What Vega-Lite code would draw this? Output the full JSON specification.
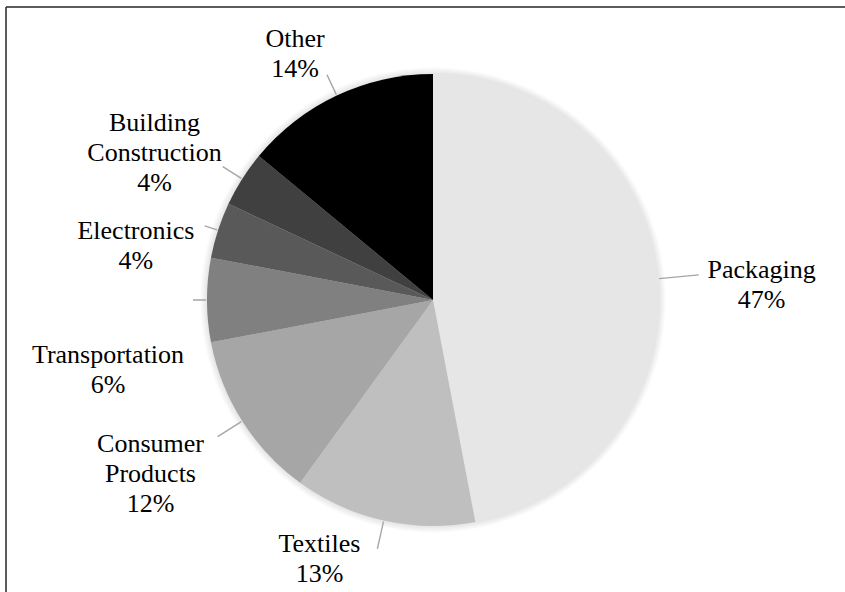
{
  "$schema": "https://vega.github.io/schema/vega-lite/v6.json",
  "width": 854,
  "height": 586,
  "autosize": {"type": "none"},
  "padding": {"left": 6, "top": 7, "right": 0, "bottom": 0},
  "background": "white",
  "config": {"view": {"stroke": null}},
  "data": {"values": [
    {"category": "Packaging", "value": 47, "order": 1, "label": "Packaging\n47%"},
    {"category": "Textiles", "value": 13, "order": 2, "label": "Textiles\n13%"},
    {"category": "Consumer Products", "value": 12, "order": 3, "label": "Consumer\nProducts\n12%"},
    {"category": "Transportation", "value": 6, "order": 4, "label": "Transportation\n6%"},
    {"category": "Electronics", "value": 4, "order": 5, "label": "Electronics\n4%"},
    {"category": "Building Construction", "value": 4, "order": 6, "label": "Building\nConstruction\n4%"},
    {"category": "Other", "value": 14, "order": 7, "label": "Other\n14%"}
  ]},
  "transform": [
    {"stack": "value", "groupby": [], "sort": [{"field": "order", "order": "ascending"}], "as": ["s", "e"]}
  ],
  "layer": [
    {
      "transform": [{"filter": "datum.order == 1"}],
      "mark": {"type": "rule", "stroke": "#262626", "strokeWidth": 1.5},
      "encoding": {"y": {"value": 0}}
    },
    {
      "transform": [{"filter": "datum.order == 1"}],
      "mark": {"type": "rule", "stroke": "#262626", "strokeWidth": 1.5},
      "encoding": {"x": {"value": 0}}
    },
    {
      "transform": [{"filter": "datum.order == 1"}],
      "mark": {
        "type": "arc", "radius": 233, "theta": 0, "theta2": 6.2832,
        "fill": {"gradient": "radial", "x1": 0.5, "y1": 0.5, "r1": 0, "x2": 0.5, "y2": 0.5, "r2": 0.5,
          "stops": [
            {"offset": 0, "color": "rgba(0,0,0,0.14)"},
            {"offset": 0.965, "color": "rgba(0,0,0,0.12)"},
            {"offset": 1, "color": "rgba(0,0,0,0)"}
          ]}
      },
      "encoding": {}
    },
    {
      "mark": {"type": "arc", "radius": 226},
      "encoding": {
        "theta": {"field": "s", "type": "quantitative", "scale": {"domain": [0, 100]}},
        "theta2": {"field": "e"},
        "color": {
          "field": "category", "type": "nominal", "legend": null,
          "scale": {
            "domain": ["Packaging", "Textiles", "Consumer Products", "Transportation", "Electronics", "Building Construction", "Other"],
            "range": ["#e6e6e6", "#bfbfbf", "#a6a6a6", "#808080", "#595959", "#404040", "#000000"]
          }
        }
      }
    },
    {
      "transform": [
        {"fold": ["s", "e"], "as": ["k", "v"]},
        {"aggregate": [{"op": "mean", "field": "v", "as": "mid"}], "groupby": ["category", "label", "order"]}
      ],
      "layer": [
        {
          "transform": [{"filter": {"field": "category", "oneOf": ["Packaging"]}}],
          "mark": {"type": "arc", "radius": 267, "radius2": 227, "fill": null, "stroke": "#a6a6a6", "strokeWidth": 1.4},
          "encoding": {"theta": {"field": "mid", "type": "quantitative"}, "theta2": {"field": "mid"}}
        },
        {
          "transform": [{"filter": {"field": "category", "oneOf": ["Textiles", "Consumer Products"]}}],
          "mark": {"type": "arc", "radius": 255, "radius2": 227, "fill": null, "stroke": "#a6a6a6", "strokeWidth": 1.4},
          "encoding": {"theta": {"field": "mid", "type": "quantitative"}, "theta2": {"field": "mid"}}
        },
        {
          "transform": [{"filter": {"field": "category", "oneOf": ["Other", "Building Construction"]}}],
          "mark": {"type": "arc", "radius": 249, "radius2": 227, "fill": null, "stroke": "#a6a6a6", "strokeWidth": 1.4},
          "encoding": {"theta": {"field": "mid", "type": "quantitative"}, "theta2": {"field": "mid"}}
        },
        {
          "transform": [{"filter": {"field": "category", "oneOf": ["Electronics", "Transportation"]}}],
          "mark": {"type": "arc", "radius": 240, "radius2": 227, "fill": null, "stroke": "#a6a6a6", "strokeWidth": 1.4},
          "encoding": {"theta": {"field": "mid", "type": "quantitative"}, "theta2": {"field": "mid"}}
        },
        {
          "transform": [{"filter": {"field": "category", "oneOf": ["Packaging"]}}],
          "mark": {"type": "text", "radius": 305, "dx": 25, "dy": -1, "font": "Liberation Serif", "fontSize": 26, "lineHeight": 30, "lineBreak": "\n", "align": "center", "baseline": "middle", "color": "#000000"},
          "encoding": {"theta": {"field": "mid", "type": "quantitative"}, "text": {"field": "label"}}
        },
        {
          "transform": [{"filter": {"field": "category", "oneOf": ["Textiles"]}}],
          "mark": {"type": "text", "radius": 305, "dx": -47, "dy": -54, "font": "Liberation Serif", "fontSize": 26, "lineHeight": 30, "lineBreak": "\n", "align": "center", "baseline": "middle", "color": "#000000"},
          "encoding": {"theta": {"field": "mid", "type": "quantitative"}, "text": {"field": "label"}}
        },
        {
          "transform": [{"filter": {"field": "category", "oneOf": ["Consumer Products"]}}],
          "mark": {"type": "text", "radius": 305, "dx": -25, "dy": -19, "font": "Liberation Serif", "fontSize": 26, "lineHeight": 30, "lineBreak": "\n", "align": "center", "baseline": "middle", "color": "#000000"},
          "encoding": {"theta": {"field": "mid", "type": "quantitative"}, "text": {"field": "label"}}
        },
        {
          "transform": [{"filter": {"field": "category", "oneOf": ["Transportation"]}}],
          "mark": {"type": "text", "radius": 305, "dx": -20, "dy": 55, "font": "Liberation Serif", "fontSize": 26, "lineHeight": 30, "lineBreak": "\n", "align": "center", "baseline": "middle", "color": "#000000"},
          "encoding": {"theta": {"field": "mid", "type": "quantitative"}, "text": {"field": "label"}}
        },
        {
          "transform": [{"filter": {"field": "category", "oneOf": ["Electronics"]}}],
          "mark": {"type": "text", "radius": 305, "dx": -7, "dy": 25, "font": "Liberation Serif", "fontSize": 26, "lineHeight": 30, "lineBreak": "\n", "align": "center", "baseline": "middle", "color": "#000000"},
          "encoding": {"theta": {"field": "mid", "type": "quantitative"}, "text": {"field": "label"}}
        },
        {
          "transform": [{"filter": {"field": "category", "oneOf": ["Building Construction"]}}],
          "mark": {"type": "text", "radius": 305, "dx": -21, "dy": -14, "font": "Liberation Serif", "fontSize": 26, "lineHeight": 30, "lineBreak": "\n", "align": "center", "baseline": "middle", "color": "#000000"},
          "encoding": {"theta": {"field": "mid", "type": "quantitative"}, "text": {"field": "label"}}
        },
        {
          "transform": [{"filter": {"field": "category", "oneOf": ["Other"]}}],
          "mark": {"type": "text", "radius": 305, "dx": -8, "dy": 15, "font": "Liberation Serif", "fontSize": 26, "lineHeight": 30, "lineBreak": "\n", "align": "center", "baseline": "middle", "color": "#000000"},
          "encoding": {"theta": {"field": "mid", "type": "quantitative"}, "text": {"field": "label"}}
        }
      ]
    }
  ]
}
